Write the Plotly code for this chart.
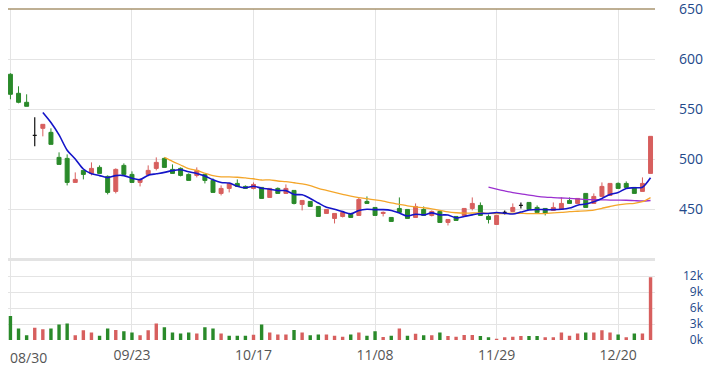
import pandas as pd
import plotly.graph_objects as go
from plotly.subplots import make_subplots

dates = ["08/30",
         "09/02", "09/03", "09/04", "09/05", "09/06", "09/09", "09/10", "09/11", "09/12", "09/13",
         "09/16", "09/18", "09/19", "09/20", "09/23",
         "09/24", "09/25", "09/26", "09/27", "09/30", "10/01", "10/04", "10/07", "10/08", "10/09",
         "10/11", "10/14", "10/15", "10/16", "10/17",
         "10/18", "10/21", "10/22", "10/23", "10/24", "10/25", "10/28", "10/29", "10/30",
         "11/01", "11/04", "11/05", "11/06", "11/07", "11/08",
         "11/11", "11/12", "11/13", "11/14", "11/15", "11/18", "11/19", "11/20", "11/21", "11/22",
         "11/25", "11/26", "11/27", "11/28", "11/29",
         "12/02", "12/03", "12/04", "12/05", "12/06", "12/09", "12/10", "12/11", "12/12", "12/13",
         "12/16", "12/17", "12/18", "12/19", "12/20",
         "12/23", "12/24", "12/25", "12/26"]

opens = [585, 566, 557, 524, 531, 527, 502, 501, 477, 489,
         486, 492, 483, 468, 494, 485, 477, 485, 491, 501,
         490, 491, 485, 484, 485, 479, 466, 471, 476, 473,
         471, 472, 462, 471, 466, 469, 455, 458, 453, 446,
         441, 443, 446, 444, 458, 452, 446, 442, 451, 450,
         442, 450, 444, 448, 437, 443, 444, 451, 454, 443,
         435, 447, 448, 454, 457, 452, 451, 449, 450, 459,
         456, 466, 456, 463, 464, 476, 476, 472, 468, 486]
highs = [586, 573, 565, 542, 535, 531, 507, 505, 487, 489,
         497, 494, 484, 491, 496, 488, 481, 494, 502, 502,
         495, 492, 486, 492, 485, 481, 474, 476, 480, 474,
         477, 472, 471, 472, 475, 469, 459, 458, 453, 450,
         446, 447, 446, 462, 463, 452, 448, 442, 462, 450,
         456, 453, 449, 448, 440, 443, 451, 462, 457, 445,
         444, 449, 456, 457, 457, 454, 451, 457, 462, 462,
         461, 466, 466, 477, 476, 477, 478, 472, 482, 523]
lows = [560, 556, 553, 513, 523, 515, 495, 474, 477, 480,
        484, 486, 465, 466, 485, 477, 473, 483, 489, 492,
        486, 483, 479, 482, 476, 467, 464, 467, 473, 471,
        470, 461, 462, 466, 466, 455, 449, 453, 443, 446,
        436, 442, 442, 444, 456, 444, 443, 438, 447, 441,
        442, 444, 443, 437, 434, 439, 444, 449, 444, 436,
        435, 445, 448, 451, 450, 446, 444, 449, 450, 456,
        456, 452, 456, 463, 464, 471, 472, 466, 468, 486]
closes = [565, 557, 553, 524, 535, 515, 495, 477, 480, 485,
          491, 486, 467, 490, 485, 477, 480, 489, 497, 492,
          486, 484, 479, 489, 479, 467, 471, 476, 473, 471,
          475, 461, 471, 466, 471, 456, 459, 453, 443, 450,
          446, 447, 442, 460, 456, 444, 447, 438, 447, 441,
          453, 444, 448, 437, 440, 439, 451, 456, 444, 440,
          444, 447, 452, 454, 450, 447, 446, 452, 456, 456,
          461, 452, 463, 473, 476, 471, 472, 466, 476, 523]

# volume in thousands
volume_k = [4.5, 2.15, 0.9, 2.3, 2.0, 2.15, 2.9, 3.1, 0.9, 1.85,
            1.4, 0.8, 2.15, 1.9, 1.65, 1.4, 0.9, 1.85, 3.1, 2.4,
            1.4, 1.2, 1.4, 1.2, 2.4, 2.15, 1.2, 0.8, 0.8, 0.8,
            1.0, 2.9, 1.4, 1.05, 1.05, 1.9, 1.4, 0.9, 1.05, 1.05,
            0.8, 0.6, 1.05, 1.4, 0.8, 1.65, 0.55, 0.8, 2.15, 0.8,
            1.17, 0.9, 0.9, 1.41, 0.74, 0.6, 0.92, 0.92, 0.74, 0.5,
            0.25, 0.5, 0.6, 0.74, 0.74, 0.74, 0.5, 0.5, 1.41, 0.8,
            1.23, 1.41, 1.41, 1.84, 1.41, 1.04, 0.5, 1.23, 1.23, 11.8]
# volume bar direction as shown: R = up, G = down
volume_dir = ("GGGRRGGGRR" "RGGRGGRRRG" "GGGRGGRGGG" "RGRRRGRGGR"
              "RRGRGGRGRG" "RGRGRRRRGG" "RRRRGGRRRR" "RGRRRGRGRR")

tick_dates = ["08/30", "09/23", "10/17", "11/08", "11/29", "12/20"]
tick_text = ["", "09/23", "10/17", "11/08", "11/29", "12/20"]
price_ticks = [450, 500, 550, 600, 650]
vol_ticks = [0, 3, 6, 9, 12]
vol_tick_text = ["0k", "3k", "6k", "9k", "12k"]

RED = "#d75f5e"
GREEN = "#2a8a2a"

close_s = pd.Series(closes, dtype=float)
ma5 = close_s.rolling(5).mean()
ma20 = close_s.rolling(20).mean()
ma60 = close_s.rolling(60).mean()

fig = make_subplots(rows=2, cols=1, shared_xaxes=True, vertical_spacing=0.0,
                    row_heights=[0.75, 0.25])

normal = [i for i in range(len(dates)) if opens[i] != closes[i]]
doji = [i for i in range(len(dates)) if opens[i] == closes[i]]

def pick(arr, idx):
    return [arr[i] for i in idx]

fig.add_trace(go.Candlestick(
    x=pick(dates, normal), open=pick(opens, normal), high=pick(highs, normal),
    low=pick(lows, normal), close=pick(closes, normal),
    increasing=dict(line=dict(color=RED, width=1), fillcolor=RED),
    decreasing=dict(line=dict(color=GREEN, width=1), fillcolor=GREEN),
    whiskerwidth=0, hoverinfo="skip", showlegend=False), row=1, col=1)
fig.add_trace(go.Candlestick(
    x=pick(dates, doji), open=pick(opens, doji), high=pick(highs, doji),
    low=pick(lows, doji), close=pick(closes, doji),
    increasing=dict(line=dict(color="#111111", width=1.2), fillcolor="#111111"),
    decreasing=dict(line=dict(color="#111111", width=1.2), fillcolor="#111111"),
    whiskerwidth=0, hoverinfo="skip", showlegend=False), row=1, col=1)

for ser, col, w in [(ma60, "#9b30d0", 1.3), (ma20, "#f4a62a", 1.3), (ma5, "#1414c8", 1.6)]:
    fig.add_trace(go.Scatter(x=dates, y=ser, mode="lines",
                             line=dict(color=col, width=w, shape="spline", smoothing=0.8),
                             hoverinfo="skip", showlegend=False), row=1, col=1)

fig.add_trace(go.Bar(x=dates, y=volume_k,
                     marker=dict(color=[RED if d == "R" else GREEN for d in volume_dir],
                                 line=dict(width=0)),
                     hoverinfo="skip", showlegend=False), row=2, col=1)

W, H = 723, 373
ml, mr, mt, mb = 8, 15, 9, 33
pw, ph = W - ml - mr, H - mt - mb
xdom_end = (655 - ml) / pw
price_bottom = (340 - 258.5) / ph
vol_top = (340 - 260.5) / ph
axis_pos = (703 - ml) / pw

grid = "#e4e4e4"
label_blue = "#23498a"
font = "Open Sans, DejaVu Sans, sans-serif"

fig.update_layout(
    width=W, height=H, margin=dict(l=ml, r=mr, t=mt, b=mb, autoexpand=False),
    paper_bgcolor="white", plot_bgcolor="white", hovermode=False,
    font=dict(family=font), bargap=0.58, showlegend=False,
    xaxis=dict(domain=[0, xdom_end], type="category", categoryorder="array",
               categoryarray=dates, range=[-0.3, len(dates) - 0.45], automargin=False,
               rangeslider=dict(visible=False), showticklabels=False,
               tickvals=tick_dates, showgrid=True, gridcolor=grid, gridwidth=1,
               zeroline=False, showline=False, ticks=""),
    xaxis2=dict(domain=[0, xdom_end], type="category", categoryorder="array",
                categoryarray=dates, range=[-0.3, len(dates) - 0.45], automargin=False,
                rangeslider=dict(visible=False), tickvals=tick_dates, ticktext=tick_text,
                showgrid=True, gridcolor=grid, gridwidth=1, zeroline=False,
                showline=False, ticks="", ticklabelstandoff=5,
                tickfont=dict(size=14, color="#555555")),
    yaxis=dict(domain=[price_bottom, 1], range=[401, 650.2], tickvals=price_ticks,
               anchor="free", position=axis_pos, side="left", automargin=False,
               ticklabeloverflow="allow",
               showgrid=True, gridcolor=grid, zeroline=False, ticks="",
               tickfont=dict(size=14, color=label_blue)),
    yaxis2=dict(domain=[0, vol_top], range=[0, 14.95], tickvals=vol_ticks,
                ticktext=vol_tick_text, anchor="free", position=axis_pos, side="left",
                automargin=False, ticklabeloverflow="allow",
                showgrid=True, gridcolor=grid, zeroline=False, ticks="",
                tickfont=dict(size=12, color=label_blue)),
    shapes=[
        dict(type="line", xref="x domain", yref="y domain", x0=0, x1=1, y0=1, y1=1,
             line=dict(color="#a8946f", width=1.5)),
        dict(type="line", xref="x domain", yref="paper", x0=0, x1=1,
             y0=(price_bottom + vol_top) / 2, y1=(price_bottom + vol_top) / 2,
             line=dict(color="#e3e3e3", width=3)),
    ],
    annotations=[dict(text="08/30", x=dates[0], xref="x2", y=0, yref="paper",
                      xanchor="left", yanchor="top", xshift=-2, yshift=-6, showarrow=False,
                      font=dict(size=14, color="#555555"))],
)

fig.write_html("out.html", config={"displayModeBar": False, "staticPlot": True},
               post_script="document.body.style.margin='0px';")
